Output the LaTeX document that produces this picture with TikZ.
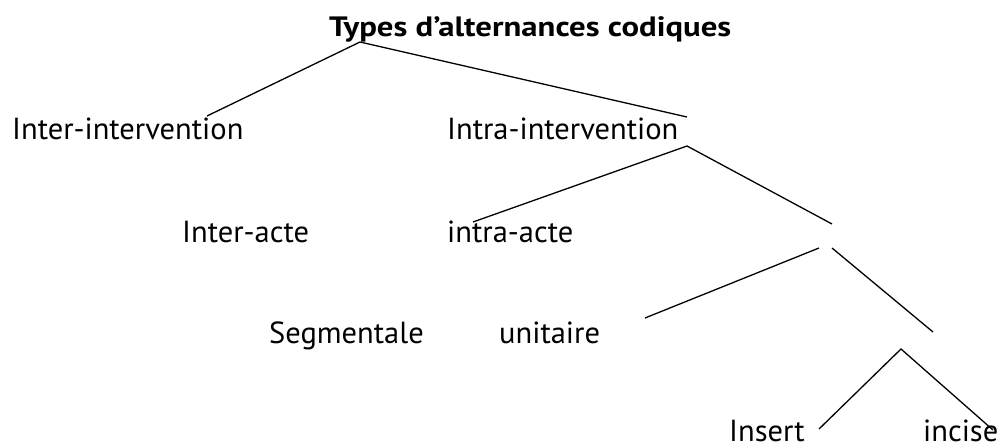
\documentclass[tikz,border=0pt]{standalone}
\usepackage{fontspec}
\setmainfont{PT Sans}
\newfontfamily\ttlfont[FakeStretch=1.17]{PT Sans Bold}
\begin{document}
\begin{tikzpicture}[x=1pt,y=-1pt,
  lbl/.style={anchor=base west,inner sep=0pt,font=\fontsize{30.5}{34}\selectfont},
  ttl/.style={anchor=base west,inner sep=0pt,font=\ttlfont\fontsize{28}{32}\selectfont},
  branch/.style={line width=1.3pt,black}]
\useasboundingbox (0,0) rectangle (999,447);
% texts
\node[ttl] (title) at (329,36) {Types d’alternances codiques};
\node[lbl] (interint) at (12,139) {Inter-intervention};
\node[lbl] (intraint) at (447,139) {Intra-intervention};
\node[lbl] (interacte) at (182,242) {Inter-acte};
\node[lbl] (intraacte) at (447,242) {intra-acte};
\node[lbl] (segm) at (269,343) {Segmentale};
\node[lbl] (unit) at (499,343) {unitaire};
\node[lbl,text depth=0pt] (insert) at (729,441) {Insert};
\node[lbl,text depth=0pt] (incise) at (923,441) {incise};
% junction points
\coordinate (a0) at (360,42);
\coordinate (a1) at (207,116);
\coordinate (a2) at (687,117);
\coordinate (b0) at (687,146);
\coordinate (b1) at (473,222);
\coordinate (b2) at (832,224);
\coordinate (c0) at (819,248);
\coordinate (c1) at (645,318);
\coordinate (d0) at (832,248);
\coordinate (d1) at (933,332);
\coordinate (e0) at (901,349);
\coordinate (e1) at (819,429);
\coordinate (e2) at (993,430);
% branches
\draw[branch] (a1) -- (a0) -- (a2);
\draw[branch] (b1) -- (b0) -- (b2);
\draw[branch] (c0) -- (c1);
\draw[branch] (d0) -- (d1);
\draw[branch] (e1) -- (e0) -- (e2);
\end{tikzpicture}
\end{document}
